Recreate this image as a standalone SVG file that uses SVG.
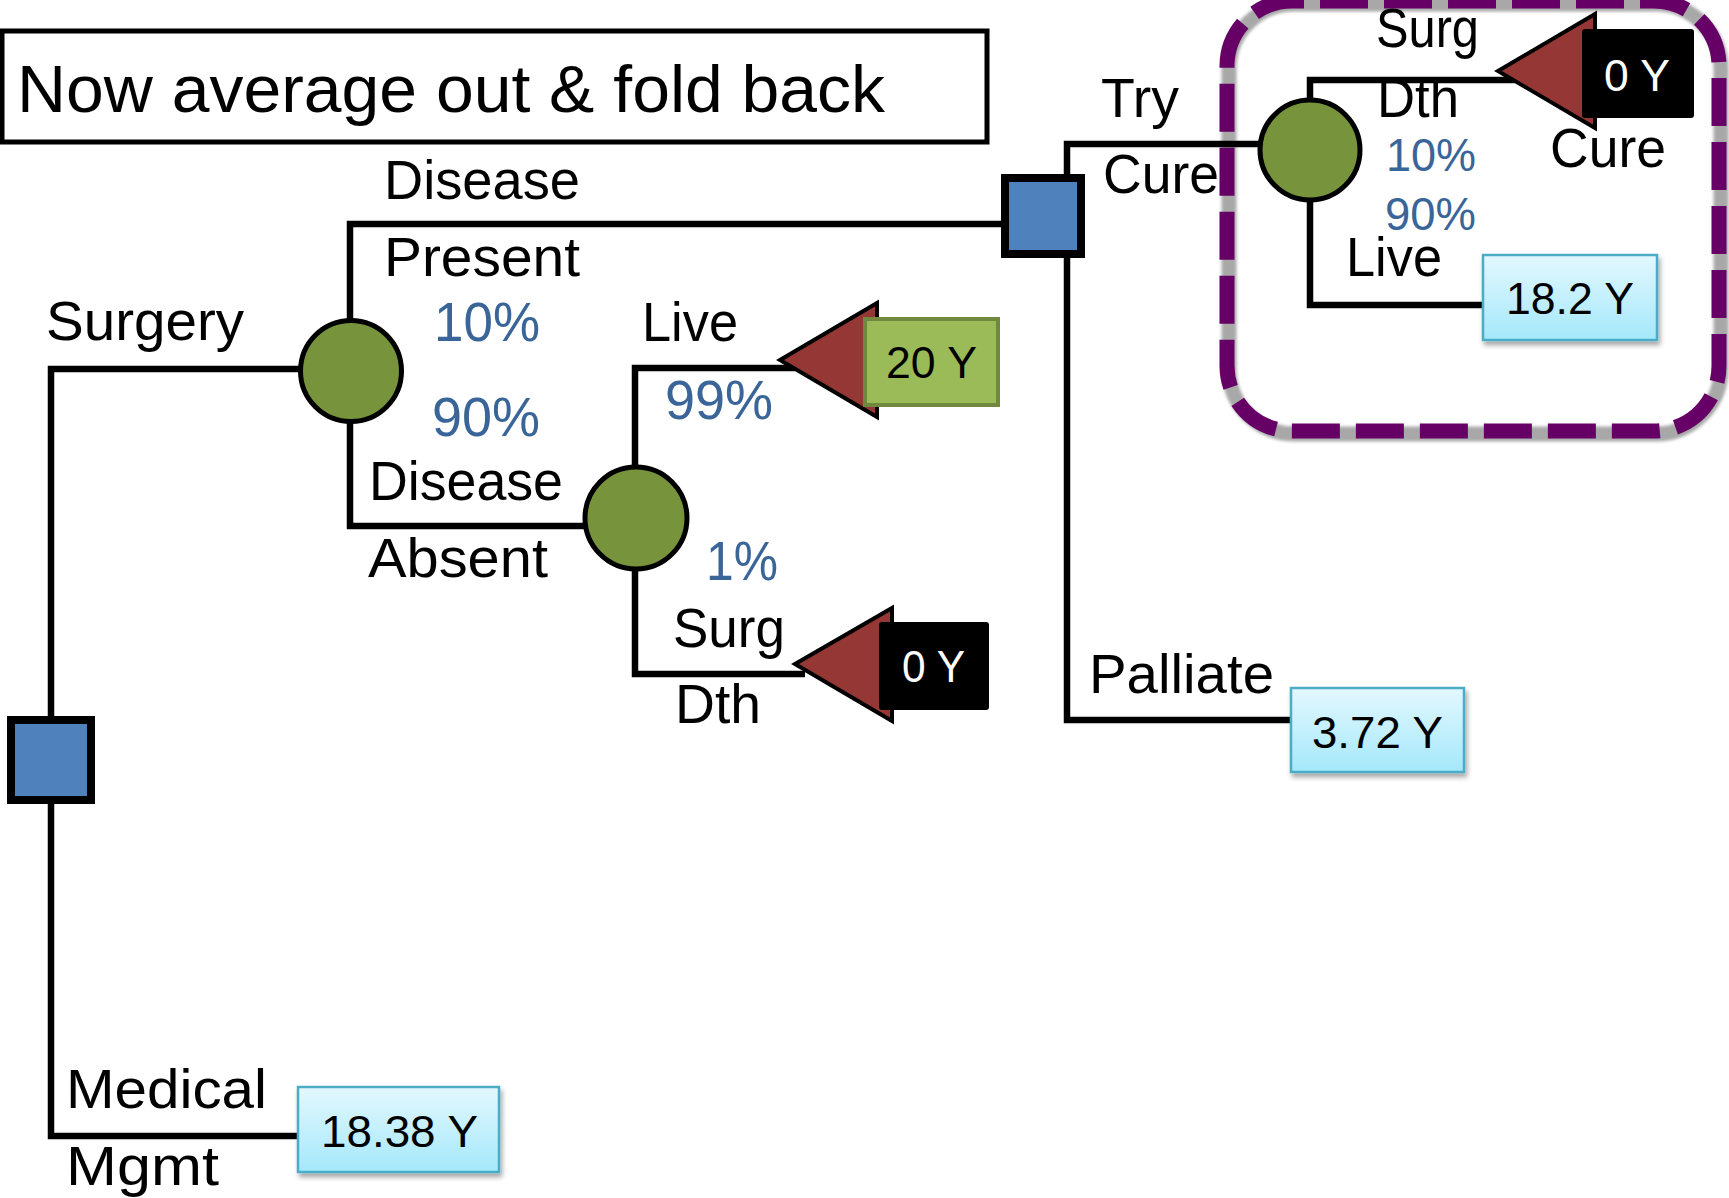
<svg xmlns="http://www.w3.org/2000/svg" width="1729" height="1198" viewBox="0 0 1729 1198">
<defs>
<linearGradient id="cyan" x1="0" y1="0" x2="0" y2="1">
<stop offset="0" stop-color="#e3f8fe"/>
<stop offset="1" stop-color="#a4e8fb"/>
</linearGradient>
<filter id="shadow" x="-10%" y="-10%" width="130%" height="140%">
<feDropShadow dx="2" dy="4" stdDeviation="2.5" flood-color="#000" flood-opacity="0.35"/>
</filter>
<filter id="blur" x="-5%" y="-5%" width="110%" height="110%">
<feGaussianBlur stdDeviation="1.8"/>
</filter>
</defs>
<style>
text{font-family:"Liberation Sans",Arial,sans-serif;fill:#000}
.lbl{font-size:55px}
.pct{font-size:55px;fill:#3a6598}
.pcts{font-size:46px;fill:#3a6598}
.val{font-size:45px}
.wval{font-size:45px;fill:#fff}
.wire{fill:none;stroke:#000;stroke-width:6.5;stroke-linejoin:miter}
.dec{fill:#4f81bd;stroke:#000;stroke-width:8}
.chance{fill:#77933c;stroke:#000;stroke-width:5}
.term{fill:#953735;stroke:#000;stroke-width:4;stroke-linejoin:miter}
.cy{fill:url(#cyan);stroke:#4bacc6;stroke-width:2.5}
</style>
<rect width="1729" height="1198" fill="#fff"/>

<g id="title">
<rect x="2" y="31" width="985" height="111" fill="#fff" stroke="#000" stroke-width="5"/>
<text x="17" y="112" font-size="66" textLength="868" lengthAdjust="spacingAndGlyphs">Now average out &amp; fold back</text>
</g>

<g id="highlight">
<rect x="1229" y="4" width="492" height="430" rx="65" fill="none" stroke="#a8a8a8" stroke-width="15" filter="url(#blur)"/>
<rect x="1227" y="1" width="492" height="430" rx="65" fill="none" stroke="#660066" stroke-width="15" stroke-dasharray="48 16" stroke-dashoffset="36"/>
</g>

<g id="connectors">
<path class="wire" d="M298 1136 H51 V369 H351"/>
<path class="wire" d="M636 526 H350 V224 H1005"/>
<path class="wire" d="M805 674 H635 V368 H795"/>
<path class="wire" d="M1291 720 H1067 V144 H1310"/>
<path class="wire" d="M1483 305 H1310 V80 H1515"/>
</g>

<g id="root-decision">
<rect class="dec" x="11" y="720" width="80" height="80"/>
</g>
<g id="label-surgery"><text class="lbl" x="46" y="340" textLength="198" lengthAdjust="spacingAndGlyphs">Surgery</text></g>
<g id="label-medical">
<text class="lbl" x="66" y="1108" textLength="201" lengthAdjust="spacingAndGlyphs">Medical</text>
<text class="lbl" x="66" y="1185" textLength="153" lengthAdjust="spacingAndGlyphs">Mgmt</text>
</g>
<g id="medical-value">
<rect class="cy" x="298" y="1087" width="201" height="85" filter="url(#shadow)"/>
<text class="val" x="321" y="1147" textLength="157" lengthAdjust="spacingAndGlyphs">18.38 Y</text>
</g>

<g id="chance-disease">
<circle class="chance" cx="351" cy="371" r="50.5"/>
</g>
<g id="label-disease-present">
<text class="lbl" x="384" y="199" textLength="196" lengthAdjust="spacingAndGlyphs">Disease</text>
<text class="lbl" x="384" y="276" textLength="196" lengthAdjust="spacingAndGlyphs">Present</text>
<text class="pct" x="434" y="341" textLength="106" lengthAdjust="spacingAndGlyphs">10%</text>
</g>
<g id="label-disease-absent">
<text class="pct" x="432" y="436" textLength="108" lengthAdjust="spacingAndGlyphs">90%</text>
<text class="lbl" x="369" y="500" textLength="194" lengthAdjust="spacingAndGlyphs">Disease</text>
<text class="lbl" x="368" y="577" textLength="180" lengthAdjust="spacingAndGlyphs">Absent</text>
</g>

<g id="chance-absent">
<circle class="chance" cx="636" cy="518" r="51"/>
</g>
<g id="label-live">
<text class="lbl" x="642" y="341" textLength="96" lengthAdjust="spacingAndGlyphs">Live</text>
<text class="pct" x="665" y="419" textLength="108" lengthAdjust="spacingAndGlyphs">99%</text>
</g>
<g id="terminal-live">
<polygon class="term" points="780,360 877,303 877,417"/>
<rect x="865" y="319" width="133" height="86" fill="#9bbb59" stroke="#71893f" stroke-width="4"/>
<text class="val" x="886" y="378" textLength="91" lengthAdjust="spacingAndGlyphs">20 Y</text>
</g>
<g id="label-surgdth">
<text class="pct" x="706" y="580" textLength="72" lengthAdjust="spacingAndGlyphs">1%</text>
<text class="lbl" x="673" y="647" textLength="112" lengthAdjust="spacingAndGlyphs">Surg</text>
<text class="lbl" x="675" y="723" textLength="86" lengthAdjust="spacingAndGlyphs">Dth</text>
</g>
<g id="terminal-surgdth">
<polygon class="term" points="795,664 892,608 892,721"/>
<rect x="879" y="622" width="110" height="88" rx="3" fill="#000"/>
<text class="wval" x="902" y="682" textLength="63" lengthAdjust="spacingAndGlyphs">0 Y</text>
</g>

<g id="decision-present">
<rect class="dec" x="1005" y="178" width="76" height="76"/>
</g>
<g id="label-trycure">
<text class="lbl" x="1101" y="117" textLength="78" lengthAdjust="spacingAndGlyphs">Try</text>
<text class="lbl" x="1103" y="193" textLength="116" lengthAdjust="spacingAndGlyphs">Cure</text>
</g>
<g id="label-palliate">
<text class="lbl" x="1089" y="693" textLength="185" lengthAdjust="spacingAndGlyphs">Palliate</text>
</g>
<g id="palliate-value">
<rect class="cy" x="1291" y="688" width="173" height="84" filter="url(#shadow)"/>
<text class="val" x="1312" y="748" textLength="131" lengthAdjust="spacingAndGlyphs">3.72 Y</text>
</g>

<g id="chance-trycure">
<circle class="chance" cx="1310" cy="150" r="50"/>
</g>
<g id="label-cure-surgdth">
<text class="lbl" x="1376" y="47" textLength="103" lengthAdjust="spacingAndGlyphs">Surg</text>
<text class="lbl" x="1377" y="117" textLength="82" lengthAdjust="spacingAndGlyphs">Dth</text>
<text class="pcts" x="1386" y="171" textLength="90" lengthAdjust="spacingAndGlyphs">10%</text>
</g>
<g id="terminal-cure-surgdth">
<polygon class="term" points="1498,71 1595,14 1595,128"/>
<rect x="1582" y="29" width="112" height="89" rx="3" fill="#000"/>
<text class="wval" x="1604" y="91" textLength="66" lengthAdjust="spacingAndGlyphs">0 Y</text>
</g>
<g id="label-cure">
<text class="lbl" x="1550" y="167" textLength="116" lengthAdjust="spacingAndGlyphs">Cure</text>
</g>
<g id="label-cure-live">
<text class="pcts" x="1385" y="230" textLength="91" lengthAdjust="spacingAndGlyphs">90%</text>
<text class="lbl" x="1346" y="276" textLength="96" lengthAdjust="spacingAndGlyphs">Live</text>
</g>
<g id="cure-live-value">
<rect class="cy" x="1483" y="255" width="174" height="85" filter="url(#shadow)"/>
<text class="val" x="1506" y="314" textLength="128" lengthAdjust="spacingAndGlyphs">18.2 Y</text>
</g>
</svg>
